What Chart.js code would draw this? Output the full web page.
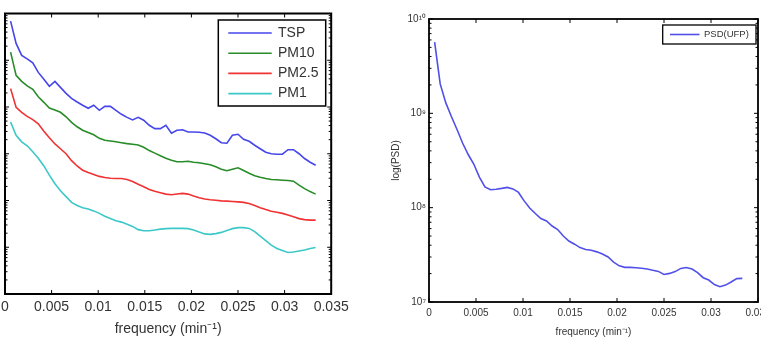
<!DOCTYPE html>
<html><head><meta charset="utf-8">
<script src="https://cdn.jsdelivr.net/npm/chart.js@4/dist/chart.umd.min.js"></script>
<style>
html,body{margin:0;padding:0;background:#fff;width:761px;height:338px;overflow:hidden}
#c1{position:absolute;left:0;top:0}
#c2{position:absolute;left:370px;top:0}
</style></head><body>
<canvas id="c1" width="370" height="338"></canvas>
<canvas id="c2" width="391" height="338"></canvas>
<script>
// ---- data ----
const frequency = [0.00060,0.00119,0.00179,0.00238,0.00298,0.00357,0.00417,0.00476,0.00536,0.00595,
  0.00655,0.00714,0.00774,0.00833,0.00893,0.00952,0.01012,0.01071,0.01131,0.01190,
  0.01250,0.01310,0.01369,0.01429,0.01488,0.01548,0.01607,0.01667,0.01726,0.01786,
  0.01845,0.01905,0.01964,0.02024,0.02083,0.02143,0.02202,0.02262,0.02321,0.02381,
  0.02440,0.02500,0.02560,0.02619,0.02679,0.02738,0.02798,0.02857,0.02917,0.02976,
  0.03036,0.03095,0.03155,0.03214,0.03274,0.03333];
const tsp = [6.85e5,2.29e5,1.27e5,1.07e5,8.78e4,5.5e4,3.9e4,2.77e4,3.53e4,2.63e4,
  1.96e4,1.53e4,1.28e4,1.09e4,9.4e3,1.09e4,8.5e3,1.03e4,1.03e4,8.5e3,
  6.98e3,6.0e3,5.3e3,6.0e3,5.2e3,4.06e3,3.45e3,3.45e3,4.06e3,2.74e3,
  3.18e3,3.26e3,2.92e3,2.92e3,2.88e3,2.78e3,2.48e3,2.09e3,1.72e3,1.68e3,
  2.48e3,2.61e3,2.04e3,1.85e3,1.52e3,1.28e3,1.08e3,1.0e3,977,977,
  1.22e3,1.22e3,1.0e3,791,659,569];
const pm10 = [1.49e5,4.75e4,3.53e4,2.83e4,2.39e4,1.65e4,1.26e4,9.5e3,8.6e3,7.7e3,
  6.17e3,4.71e3,3.78e3,3.18e3,2.84e3,2.55e3,2.14e3,1.94e3,1.88e3,1.80e3,
  1.72e3,1.65e3,1.60e3,1.54e3,1.38e3,1.17e3,1.03e3,907,802,727,
  675,675,692,659,643,612,582,528,467,434,
  467,502,438,384,339,315,296,281,277,272,
  267,259,213,179,155,137];
const pm25 = [2.47e4,9.84e3,7.7e3,6.32e3,5.38e3,4.37e3,3.03e3,2.20e3,1.62e3,1.28e3,
  1.0e3,710,547,444,397,360,328,310,300,296,
  296,281,255,223,196,172,158,147,137,133,
  138,142,137,125,115,108,104,101,98,97,
  95,93.5,91,86,78,70,64,59,56,53,
  49,45,41,39,38,38];
const pm1 = [4.78e3,2.48e3,1.80e3,1.48e3,1.10e3,802,549,348,228,162,
  121,91,78,70,66,60,53,46,41,37,
  34.5,31.2,27.9,23.8,22.5,22.5,23.3,24.4,25.0,25.3,
  25.3,25.3,25.0,23.3,21.1,19.3,18.9,19.6,20.8,22.9,
  25.0,26.3,26.3,25.3,21.6,17.3,13.9,11.1,9.4,8.5,
  7.7,7.9,8.3,8.7,9.4,9.9];
const psdUfp = [5.70e9,2.05e9,1.29e9,9.25e8,6.74e8,4.85e8,3.66e8,2.90e8,2.11e8,1.66e8,
  1.55e8,1.57e8,1.60e8,1.64e8,1.58e8,1.45e8,1.18e8,9.93e7,8.67e7,7.66e7,
  7.22e7,6.39e7,5.87e7,5.01e7,4.43e7,4.10e7,3.77e7,3.60e7,3.53e7,3.40e7,
  3.23e7,3.00e7,2.65e7,2.42e7,2.33e7,2.33e7,2.31e7,2.28e7,2.24e7,2.17e7,
  2.11e7,1.96e7,2.01e7,2.10e7,2.27e7,2.32e7,2.24e7,2.05e7,1.81e7,1.71e7,
  1.53e7,1.45e7,1.51e7,1.63e7,1.77e7,1.78e7];
const seriesNames = ['TSP','PM10','PM2.5','PM1'];
const psdName = 'PSD(UFP)';
const xTickValues = [0,0.005,0.01,0.015,0.02,0.025,0.03,0.035];
const xTickLabels = ['0','0.005','0.01','0.015','0.02','0.025','0.03','0.035'];
const yTickValuesRight = [1e7,1e8,1e9,1e10];
const yTickLabelsRight = ['10\u2077','10\u2078','10\u2079','10\u00B9\u2070'];

// ---- styling ----
const FONT = '"Liberation Sans", Arial, Helvetica, sans-serif';
const TXT = '#333';
const colors = ['rgb(70,70,235)','rgb(40,140,40)','rgb(240,50,50)','rgb(60,200,200)'];
const psdColor = 'rgb(80,80,232)';

function xLabel(v){
  const i = xTickValues.findIndex(t => Math.abs(t - v) < 1e-9);
  return i < 0 ? '' : xTickLabels[i];
}
function yLabelRight(v){
  const i = yTickValuesRight.findIndex(t => Math.abs(t - v) / t < 1e-6);
  return i < 0 ? '' : yTickLabelsRight[i];
}

const framePlugin = {
  id: 'frame',
  afterDatasetsDraw(chart, args, o) {
    const {ctx, chartArea: a, scales} = chart;
    ctx.save();
    ctx.strokeStyle = '#000';
    ctx.lineWidth = 1;
    ctx.beginPath();
    const xs = scales.x;
    xTickValues.forEach(v => {
      const p = xs.getPixelForValue(v);
      ctx.moveTo(p, a.bottom); ctx.lineTo(p, a.bottom - o.major);
      ctx.moveTo(p, a.top); ctx.lineTo(p, a.top + o.major);
    });
    const ys = scales.y;
    const e0 = Math.floor(Math.log10(ys.min)), e1 = Math.ceil(Math.log10(ys.max));
    for (let e = e0; e <= e1; e++) {
      for (let m = 1; m < 10; m++) {
        const v = m * Math.pow(10, e);
        if (v < ys.min * 0.999 || v > ys.max * 1.001) continue;
        const p = ys.getPixelForValue(v);
        const L = m === 1 ? o.major : o.minor;
        ctx.moveTo(a.left, p); ctx.lineTo(a.left + L, p);
        ctx.moveTo(a.right, p); ctx.lineTo(a.right - L, p);
      }
    }
    ctx.stroke();
    ctx.lineWidth = o.lineWidth;
    ctx.strokeRect(a.left, a.top, a.right - a.left, a.bottom - a.top);
    ctx.restore();
  }
};

const boxLegendPlugin = {
  id: 'boxLegend',
  afterDraw(chart, args, o) {
    const ctx = chart.ctx;
    ctx.save();
    ctx.fillStyle = '#fff';
    ctx.fillRect(o.x0, o.y0, o.x1 - o.x0, o.y1 - o.y0);
    ctx.strokeStyle = '#000';
    ctx.lineWidth = o.borderWidth;
    ctx.strokeRect(o.x0, o.y0, o.x1 - o.x0, o.y1 - o.y0);
    ctx.font = o.fontSize + 'px ' + FONT;
    ctx.textBaseline = 'middle';
    ctx.textAlign = 'left';
    chart.data.datasets.forEach((ds, i) => {
      const y = o.rowY + i * o.rowStep;
      ctx.strokeStyle = ds.borderColor;
      ctx.lineWidth = ds.borderWidth;
      ctx.beginPath(); ctx.moveTo(o.lineX0, y); ctx.lineTo(o.lineX1, y); ctx.stroke();
      ctx.fillStyle = TXT;
      ctx.fillText(ds.label, o.textX, y);
    });
    ctx.restore();
  }
};

// ---- left chart ----
new Chart(document.getElementById('c1'), {
  type: 'line',
  data: {
    datasets: [tsp, pm10, pm25, pm1].map((arr, i) => ({
      label: seriesNames[i],
      data: frequency.map((f, j) => ({x: f, y: arr[j]})),
      borderColor: colors[i], borderWidth: 1.6, pointRadius: 0, fill: false, tension: 0
    }))
  },
  options: {
    responsive: false, animation: false, devicePixelRatio: 1,
    layout: {padding: {left: 0, right: 38.8, top: 13.5, bottom: 0}},
    plugins: {
      legend: {display: false}, tooltip: {enabled: false},
      frame: {lineWidth: 2, major: 4, minor: 2.5},
      boxLegend: {x0: 218.3, y0: 20, x1: 325.7, y1: 106, borderWidth: 1.5,
        lineX0: 228.3, lineX1: 271.7, textX: 278, rowY: 33, rowStep: 20.2, fontSize: 14}
    },
    scales: {
      x: {
        type: 'linear', min: 0, max: 0.035,
        ticks: {stepSize: 0.005, autoSkip: false, maxRotation: 0, padding: 5,
          font: {family: FONT, size: 14}, color: TXT, callback: v => xLabel(v)},
        grid: {display: false, drawTicks: false}, border: {display: false},
        title: {display: true, text: 'frequency (min\u207B\u00B9)', font: {family: FONT, size: 14}, color: TXT, padding: 0},
        afterFit(s) { s.height = 44; s.paddingLeft = 0; s.paddingRight = 0; }
      },
      y: {
        type: 'logarithmic', min: 1, max: 1e6,
        ticks: {display: false},
        grid: {display: false, drawTicks: false}, border: {display: false},
        afterFit(s) { s.width = 5; s.paddingTop = 0; s.paddingBottom = 0; }
      }
    }
  },
  plugins: [framePlugin, boxLegendPlugin]
});

// ---- right chart ----
new Chart(document.getElementById('c2'), {
  type: 'line',
  data: {
    datasets: [{
      label: psdName,
      data: frequency.map((f, j) => ({x: f, y: psdUfp[j]})),
      borderColor: psdColor, borderWidth: 1.6, pointRadius: 0, fill: false, tension: 0
    }]
  },
  options: {
    responsive: false, animation: false, devicePixelRatio: 1,
    layout: {padding: {left: 20, right: 3, top: 19, bottom: 0}},
    plugins: {
      legend: {display: false}, tooltip: {enabled: false},
      frame: {lineWidth: 1.8, major: 4, minor: 2.5},
      boxLegend: {x0: 292.7, y0: 25, x1: 386, y1: 44, borderWidth: 1.3,
        lineX0: 300, lineX1: 329.5, textX: 334, rowY: 34.5, rowStep: 0, fontSize: 9.5}
    },
    scales: {
      x: {
        type: 'linear', min: 0, max: 0.035,
        ticks: {stepSize: 0.005, autoSkip: false, maxRotation: 0, padding: 5,
          font: {family: FONT, size: 10}, color: TXT, callback: v => xLabel(v)},
        grid: {display: false, drawTicks: false}, border: {display: false},
        title: {display: true, text: 'frequency (min\u207B\u00B9)', font: {family: FONT, size: 10}, color: TXT, padding: 0},
        afterFit(s) { s.height = 36; s.paddingLeft = 0; s.paddingRight = 0; }
      },
      y: {
        type: 'logarithmic', min: 1e7, max: 1e10,
        ticks: {autoSkip: false, padding: 3, font: {family: FONT, size: 10}, color: TXT,
          callback: v => yLabelRight(v)},
        grid: {display: false, drawTicks: false}, border: {display: false},
        title: {display: true, text: 'log(PSD)', font: {family: FONT, size: 10}, color: TXT, padding: 0},
        afterFit(s) { s.width = 39; s.paddingTop = 0; s.paddingBottom = 0; }
      }
    }
  },
  plugins: [framePlugin, boxLegendPlugin]
});
</script>
</body></html>
